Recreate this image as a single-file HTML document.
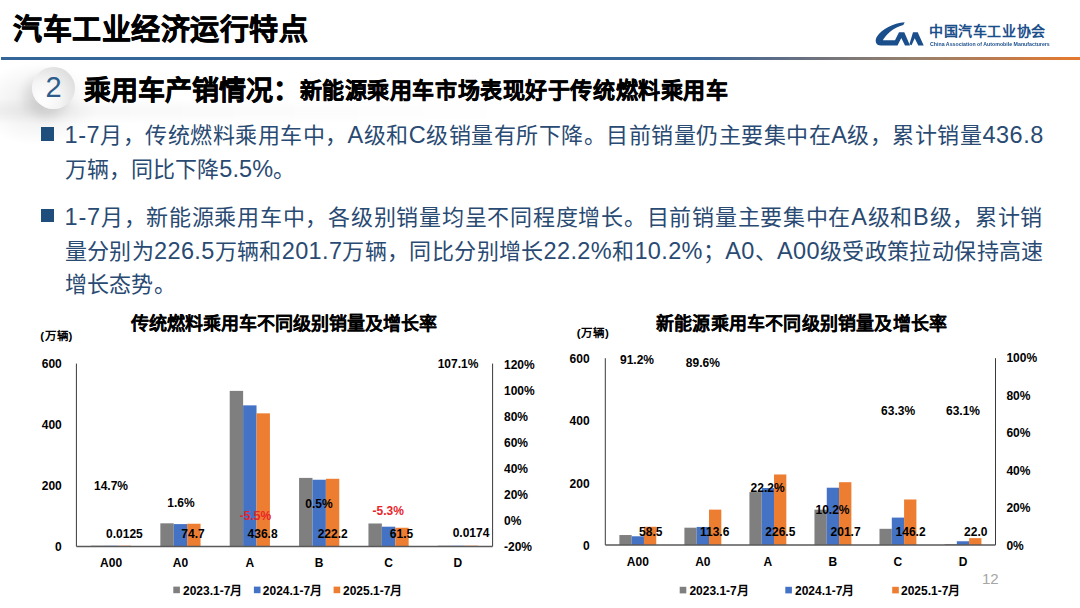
<!DOCTYPE html>
<html lang="zh-CN"><head><meta charset="utf-8">
<style>
*{margin:0;padding:0;box-sizing:border-box}
html,body{width:1080px;height:608px;overflow:hidden;background:#fff}
body{position:relative;font-family:"Liberation Sans",sans-serif;color:#000}
.abs{position:absolute;white-space:nowrap}
#title{left:13px;top:10px;font-size:29px;font-weight:bold;letter-spacing:0.55px;line-height:40px;-webkit-text-stroke:0.6px #000}
#hline{left:1px;top:57px;width:1079px;height:3px;background:linear-gradient(90deg,#35669a 0%,#37669a 64%,#5d6d86 72%,#7b7778 78%,#98806c 85%,#bb7b50 92%,#e17a30 99%)}
#band{left:0;top:60px;width:220px;height:110px;background:radial-gradient(ellipse 60px 42px at 38px 44px,rgba(0,0,0,.085),rgba(0,0,0,.04) 55%,rgba(0,0,0,0) 100%)}
#circ{left:32px;top:67px;width:43px;height:42px;border-radius:50%;background:radial-gradient(circle at 25% 75%,#ffffff 0%,#f5f5f5 38%,#e3e3e3 70%,#d2d2d2 100%);box-shadow:-7px 8px 12px rgba(0,0,0,.10)}
#circ span{position:absolute;left:0;top:-1px;width:43px;line-height:42px;text-align:center;font-size:29px;color:#2e5d8c}
#sub1{left:84px;top:73.5px;font-size:27px;font-weight:bold;line-height:34px;-webkit-text-stroke:0.5px #000}
#sub2{left:299.5px;top:77px;font-size:22px;font-weight:bold;line-height:28px;letter-spacing:0.58px;-webkit-text-stroke:0.45px #000}
.bul{position:absolute;left:40.7px;width:13.3px;height:13.2px;background:#1f4e7c}
.ln{position:absolute;left:64.6px;white-space:nowrap;font-size:22px;line-height:34px;color:#294a72}
.ln .l{font-size:23.5px}
.ctitle{font-size:18px;font-weight:bold;line-height:22px;-webkit-text-stroke:0.05px #000}
svg text{font-family:"Liberation Sans",sans-serif;font-weight:bold;dominant-baseline:central}
.ax{font-size:12px}
.dl{font-size:12px;text-anchor:middle}
.cat{font-size:12px;text-anchor:middle}
.lg{font-size:12px}
.unit{font-size:11.5px;font-weight:bold;letter-spacing:0.8px}
</style></head><body>
<div id="band" class="abs"></div>
<div class="abs" style="left:0;top:98px;width:520px;height:26px;background:linear-gradient(90deg,rgba(0,0,0,.035),rgba(0,0,0,.015) 50%,rgba(0,0,0,0));-webkit-mask:linear-gradient(180deg,transparent,#000 40%,#000 60%,transparent)"></div>
<div id="title" class="abs">汽车工业经济运行特点</div>
<div id="hline" class="abs"></div>
<svg class="abs" style="left:0;top:0" width="1080" height="60" viewBox="0 0 1080 60">
<path fill="#1b4f8c" d="M904.7,22.2 C893,23.2 882,29 877,36.5 C874.5,40.5 875.5,45.5 881,45.5 L897.5,45.5 L901.3,38 L905,45.5 L910,45.5 L904.3,32.2 L899,32.2 L895,40.3 L882.8,40.3 C886,34.5 893,27.5 903.3,24.9 Z"/>
<path fill="#1b4f8c" d="M913,32.2 L917.7,32.2 L923.7,45.5 L918.3,45.5 L914.7,38.3 L911.6,45.3 L909.4,44.2 Z"/>
</svg>
<div class="abs" id="cn" style="left:929px;top:22px;font-size:14px;font-weight:bold;letter-spacing:0.6px;line-height:18px;color:#1b4f8c">中国汽车工业协会</div>
<div class="abs" id="en" style="left:930px;top:42px;font-size:10px;font-weight:bold;line-height:7px;color:#1b4f8c;transform-origin:0 0;transform:scale(0.525,0.62)">China Association of Automobile Manufacturers</div>
<div id="circ" class="abs"><span>2</span></div>
<div id="sub1" class="abs">乘用车产销情况：</div>
<div id="sub2" class="abs">新能源乘用车市场表现好于传统燃料乘用车</div>

<div class="bul" style="top:127.4px"></div>
<div class="bul" style="top:208.6px"></div>
<div class="ln" id="ln1" style="top:118.0px;letter-spacing:0.5px"><span class="l">1-7</span>月，传统燃料乘用车中，<span class="l">A</span>级和<span class="l">C</span>级销量有所下降。目前销量仍主要集中在<span class="l">A</span>级，累计销量<span class="l">436.8</span></div>
<div class="ln" id="ln2" style="top:151.5px;letter-spacing:0.1px">万辆，同比下降<span class="l">5.5%</span>。</div>
<div class="ln" id="ln3" style="top:200.0px;letter-spacing:0.74px"><span class="l">1-7</span>月，新能源乘用车中，各级别销量均呈不同程度增长。目前销量主要集中在<span class="l">A</span>级和<span class="l">B</span>级，累计销</div>
<div class="ln" id="ln4" style="top:233.5px;letter-spacing:0.36px">量分别为<span class="l">226.5</span>万辆和<span class="l">201.7</span>万辆，同比分别增长<span class="l">22.2%</span>和<span class="l">10.2%</span>；<span class="l">A0</span>、<span class="l">A00</span>级受政策拉动保持高速</div>
<div class="ln" id="ln5" style="top:267.5px;letter-spacing:0.3px">增长态势。</div>

<div class="abs ctitle" style="left:131px;top:313.2px">传统燃料乘用车不同级别销量及增长率</div>
<div class="abs ctitle" style="left:656px;top:313.2px;letter-spacing:0.2px">新能源乘用车不同级别销量及增长率</div>

<svg class="abs" style="left:0;top:0" width="1080" height="608" viewBox="0 0 1080 608">
<g id="chart1">
<rect x="90.98" y="545.70" width="13.40" height="0.80" fill="#7f7f7f"/>
<rect x="104.38" y="545.70" width="13.40" height="0.80" fill="#4472c4"/>
<rect x="117.78" y="545.70" width="13.40" height="0.80" fill="#ed7d31"/>
<text x="111.08" y="563.30" class="cat">A00</text>
<rect x="160.35" y="523.33" width="13.40" height="23.17" fill="#7f7f7f"/>
<rect x="173.75" y="524.09" width="13.40" height="22.41" fill="#4472c4"/>
<rect x="187.15" y="523.73" width="13.40" height="22.77" fill="#ed7d31"/>
<text x="180.45" y="563.30" class="cat">A0</text>
<rect x="229.72" y="390.88" width="13.40" height="155.62" fill="#7f7f7f"/>
<rect x="243.12" y="405.36" width="13.40" height="141.14" fill="#4472c4"/>
<rect x="256.52" y="413.35" width="13.40" height="133.15" fill="#ed7d31"/>
<text x="249.82" y="563.30" class="cat">A</text>
<rect x="299.08" y="477.91" width="13.40" height="68.59" fill="#7f7f7f"/>
<rect x="312.48" y="479.74" width="13.40" height="66.76" fill="#4472c4"/>
<rect x="325.88" y="478.77" width="13.40" height="67.73" fill="#ed7d31"/>
<text x="319.18" y="563.30" class="cat">B</text>
<rect x="368.45" y="523.49" width="13.40" height="23.01" fill="#7f7f7f"/>
<rect x="381.85" y="526.69" width="13.40" height="19.81" fill="#4472c4"/>
<rect x="395.25" y="527.75" width="13.40" height="18.75" fill="#ed7d31"/>
<text x="388.55" y="563.30" class="cat">C</text>
<rect x="437.82" y="545.70" width="13.40" height="0.80" fill="#7f7f7f"/>
<rect x="451.22" y="545.70" width="13.40" height="0.80" fill="#4472c4"/>
<rect x="464.62" y="545.70" width="13.40" height="0.80" fill="#ed7d31"/>
<text x="457.92" y="563.30" class="cat">D</text>
<line x1="76.40" y1="363.60" x2="76.40" y2="546.50" stroke="#3a3a3a" stroke-width="1"/>
<line x1="492.60" y1="363.60" x2="492.60" y2="546.50" stroke="#3a3a3a" stroke-width="1"/>
<line x1="76.40" y1="546.50" x2="492.60" y2="546.50" stroke="#595959" stroke-width="1.3"/>
<text x="61.80" y="364.30" class="ax" text-anchor="end">600</text>
<text x="61.80" y="425.30" class="ax" text-anchor="end">400</text>
<text x="61.80" y="486.20" class="ax" text-anchor="end">200</text>
<text x="61.80" y="547.20" class="ax" text-anchor="end">0</text>
<text x="504.00" y="364.50" class="ax" text-anchor="start">120%</text>
<text x="504.00" y="390.59" class="ax" text-anchor="start">100%</text>
<text x="504.00" y="416.68" class="ax" text-anchor="start">80%</text>
<text x="504.00" y="442.77" class="ax" text-anchor="start">60%</text>
<text x="504.00" y="468.86" class="ax" text-anchor="start">40%</text>
<text x="504.00" y="494.95" class="ax" text-anchor="start">20%</text>
<text x="504.00" y="521.04" class="ax" text-anchor="start">0%</text>
<text x="504.00" y="547.13" class="ax" text-anchor="start">-20%</text>
<text x="111.00" y="485.70" class="dl" fill="#000">14.7%</text>
<text x="181.00" y="502.70" class="dl" fill="#000">1.6%</text>
<text x="255.50" y="516.20" class="dl" fill="#e8252a">-5.5%</text>
<text x="319.00" y="504.10" class="dl" fill="#000">0.5%</text>
<text x="388.20" y="511.20" class="dl" fill="#e8252a">-5.3%</text>
<text x="458.00" y="364.30" class="dl" fill="#000">107.1%</text>
<text x="124.40" y="533.70" class="dl" fill="#000">0.0125</text>
<text x="193.00" y="533.70" class="dl" fill="#000">74.7</text>
<text x="262.60" y="533.70" class="dl" fill="#000">436.8</text>
<text x="332.70" y="533.70" class="dl" fill="#000">222.2</text>
<text x="401.50" y="533.70" class="dl" fill="#000">61.5</text>
<text x="471.00" y="533.30" class="dl" fill="#000">0.0174</text>
<rect x="173.30" y="586.60" width="6.6" height="6.6" fill="#7f7f7f"/>
<text x="183.00" y="590.50" class="lg">2023.1-7月</text>
<rect x="253.90" y="586.60" width="6.6" height="6.6" fill="#4472c4"/>
<text x="262.80" y="590.50" class="lg">2024.1-7月</text>
<rect x="333.60" y="586.60" width="6.6" height="6.6" fill="#ed7d31"/>
<text x="343.00" y="590.50" class="lg">2025.1-7月</text>
<text x="40.30" y="335.80" class="unit">(万辆)</text>
</g>
<g id="chart2">
<rect x="619.37" y="535.04" width="12.30" height="9.96" fill="#7f7f7f"/>
<rect x="631.67" y="536.28" width="12.30" height="8.72" fill="#4472c4"/>
<rect x="643.97" y="526.79" width="12.30" height="18.21" fill="#ed7d31"/>
<text x="637.82" y="561.90" class="cat">A00</text>
<rect x="684.40" y="527.69" width="12.30" height="17.31" fill="#7f7f7f"/>
<rect x="696.70" y="526.94" width="12.30" height="18.06" fill="#4472c4"/>
<rect x="709.00" y="509.63" width="12.30" height="35.37" fill="#ed7d31"/>
<text x="702.85" y="561.90" class="cat">A0</text>
<rect x="749.43" y="492.07" width="12.30" height="52.93" fill="#7f7f7f"/>
<rect x="761.73" y="488.03" width="12.30" height="56.97" fill="#4472c4"/>
<rect x="774.03" y="474.48" width="12.30" height="70.52" fill="#ed7d31"/>
<text x="767.88" y="561.90" class="cat">A</text>
<rect x="814.47" y="509.66" width="12.30" height="35.34" fill="#7f7f7f"/>
<rect x="826.77" y="487.71" width="12.30" height="57.29" fill="#4472c4"/>
<rect x="839.07" y="482.20" width="12.30" height="62.80" fill="#ed7d31"/>
<text x="832.92" y="561.90" class="cat">B</text>
<rect x="879.50" y="528.81" width="12.30" height="16.19" fill="#7f7f7f"/>
<rect x="891.80" y="517.60" width="12.30" height="27.40" fill="#4472c4"/>
<rect x="904.10" y="499.48" width="12.30" height="45.52" fill="#ed7d31"/>
<text x="897.95" y="561.90" class="cat">C</text>
<rect x="944.53" y="544.20" width="12.30" height="0.80" fill="#7f7f7f"/>
<rect x="956.83" y="541.26" width="12.30" height="3.74" fill="#4472c4"/>
<rect x="969.13" y="538.15" width="12.30" height="6.85" fill="#ed7d31"/>
<text x="962.98" y="561.90" class="cat">D</text>
<line x1="605.30" y1="358.20" x2="605.30" y2="545.00" stroke="#3a3a3a" stroke-width="1"/>
<line x1="995.50" y1="358.20" x2="995.50" y2="545.00" stroke="#3a3a3a" stroke-width="1"/>
<line x1="605.30" y1="545.00" x2="995.50" y2="545.00" stroke="#595959" stroke-width="1.3"/>
<text x="589.60" y="358.80" class="ax" text-anchor="end">600</text>
<text x="589.60" y="421.30" class="ax" text-anchor="end">400</text>
<text x="589.60" y="483.80" class="ax" text-anchor="end">200</text>
<text x="589.60" y="546.30" class="ax" text-anchor="end">0</text>
<text x="1006.40" y="358.30" class="ax" text-anchor="start">100%</text>
<text x="1006.40" y="395.74" class="ax" text-anchor="start">80%</text>
<text x="1006.40" y="433.18" class="ax" text-anchor="start">60%</text>
<text x="1006.40" y="470.62" class="ax" text-anchor="start">40%</text>
<text x="1006.40" y="508.06" class="ax" text-anchor="start">20%</text>
<text x="1006.40" y="545.50" class="ax" text-anchor="start">0%</text>
<text x="637.00" y="359.50" class="dl" fill="#000">91.2%</text>
<text x="702.80" y="362.70" class="dl" fill="#000">89.6%</text>
<text x="767.60" y="488.20" class="dl" fill="#000">22.2%</text>
<text x="832.50" y="509.70" class="dl" fill="#000">10.2%</text>
<text x="898.10" y="411.30" class="dl" fill="#000">63.3%</text>
<text x="963.00" y="411.30" class="dl" fill="#000">63.1%</text>
<text x="650.80" y="532.20" class="dl" fill="#000">58.5</text>
<text x="714.70" y="532.20" class="dl" fill="#000">113.6</text>
<text x="780.30" y="532.20" class="dl" fill="#000">226.5</text>
<text x="845.60" y="532.30" class="dl" fill="#000">201.7</text>
<text x="910.60" y="532.30" class="dl" fill="#000">146.2</text>
<text x="975.80" y="532.30" class="dl" fill="#000">22.0</text>
<rect x="679.70" y="586.80" width="6.6" height="6.6" fill="#7f7f7f"/>
<text x="689.40" y="590.70" class="lg">2023.1-7月</text>
<rect x="785.30" y="586.80" width="6.6" height="6.6" fill="#4472c4"/>
<text x="795.00" y="590.70" class="lg">2024.1-7月</text>
<rect x="892.20" y="586.80" width="6.6" height="6.6" fill="#ed7d31"/>
<text x="901.00" y="590.70" class="lg">2025.1-7月</text>
<text x="576.70" y="332.50" class="unit">(万辆)</text>
</g>
</svg>
<div class="abs" style="left:982px;top:570px;font-size:15px;color:#a6a6a6">12</div>
</body></html>
